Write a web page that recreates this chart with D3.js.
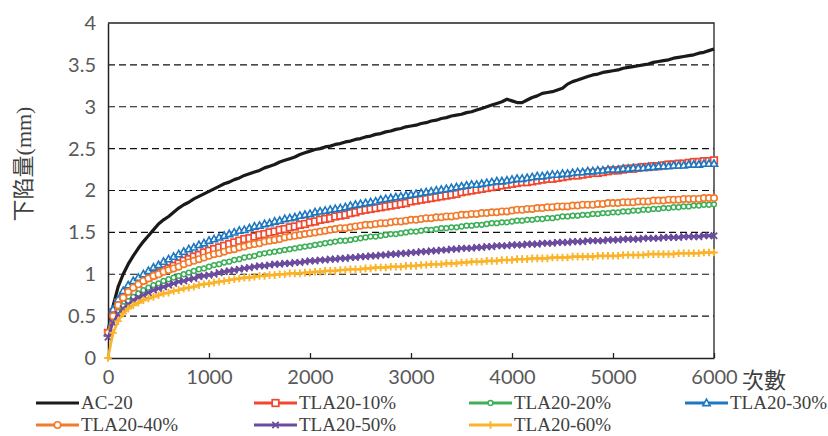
<!DOCTYPE html>
<html>
<head>
<meta charset="utf-8">
<script src="https://cdn.jsdelivr.net/npm/d3@7/dist/d3.min.js"></script>
<style>
  body { margin: 0; background: #fff; }
  #chart { width: 828px; height: 436px; }
  .tick text { font-family: Lato, "DejaVu Sans", sans-serif; font-size: 20px; fill: #595959; }
  .legend text { font-family: "Liberation Serif", "DejaVu Serif", serif; font-size: 19px; fill: #404040; }
</style>
</head>
<body>
<div id="chart"></div>
<script>
// cycles every 50, 0..6000
var cycles = d3.range(0, 6001, 50);

var xTicks = [0, 1000, 2000, 3000, 4000, 5000, 6000];
var yTicks = [0, 0.5, 1, 1.5, 2, 2.5, 3, 3.5, 4];

var names = ["AC-20", "TLA20-10%", "TLA20-20%", "TLA20-30%", "TLA20-40%", "TLA20-50%", "TLA20-60%"];

var ac20 = [
  0.32, 0.62, 0.85, 1.00, 1.12, 1.22, 1.31, 1.39, 1.46, 1.53, 1.60, 1.65, 1.69, 1.74, 1.79, 1.83, 1.86, 1.90, 1.93, 1.96, 1.99,
  2.02, 2.05, 2.08, 2.10, 2.13, 2.15, 2.18, 2.20, 2.22, 2.24, 2.27, 2.29, 2.31, 2.34, 2.36, 2.38, 2.40, 2.43, 2.45, 2.47,
  2.49, 2.50, 2.52, 2.53, 2.55, 2.56, 2.58, 2.59, 2.61, 2.62, 2.64, 2.65, 2.67, 2.68, 2.70, 2.71, 2.73, 2.74, 2.76, 2.77,
  2.78, 2.80, 2.81, 2.83, 2.84, 2.86, 2.87, 2.89, 2.90, 2.91, 2.93, 2.94, 2.96, 2.98, 3.00, 3.02, 3.04, 3.06, 3.09, 3.07,
  3.05, 3.05, 3.08, 3.11, 3.13, 3.16, 3.17, 3.18, 3.20, 3.22, 3.27, 3.30, 3.32, 3.34, 3.36, 3.38, 3.39, 3.41, 3.42, 3.43,
  3.44, 3.46, 3.47, 3.48, 3.49, 3.50, 3.51, 3.53, 3.54, 3.55, 3.56, 3.58, 3.59, 3.60, 3.61, 3.62, 3.64, 3.65, 3.67, 3.69
];
var tla10 = [
  0.30, 0.55, 0.66, 0.74, 0.80, 0.85, 0.89, 0.93, 0.96, 0.99, 1.02, 1.05, 1.07, 1.10, 1.13, 1.16, 1.18, 1.21, 1.23, 1.26, 1.28,
  1.30, 1.32, 1.34, 1.36, 1.38, 1.40, 1.42, 1.43, 1.45, 1.47, 1.48, 1.50, 1.51, 1.53, 1.54, 1.56, 1.57, 1.59, 1.60, 1.62,
  1.63, 1.65, 1.66, 1.67, 1.69, 1.70, 1.71, 1.73, 1.74, 1.76, 1.77, 1.78, 1.79, 1.80, 1.81, 1.82, 1.83, 1.84, 1.85, 1.87,
  1.88, 1.89, 1.90, 1.91, 1.92, 1.93, 1.94, 1.95, 1.96, 1.98, 1.99, 2.00, 2.01, 2.02, 2.03, 2.04, 2.05, 2.06, 2.07, 2.08,
  2.09, 2.10, 2.10, 2.11, 2.12, 2.13, 2.14, 2.14, 2.15, 2.16, 2.17, 2.18, 2.18, 2.19, 2.20, 2.21, 2.21, 2.22, 2.23, 2.24,
  2.24, 2.25, 2.26, 2.26, 2.27, 2.28, 2.28, 2.29, 2.29, 2.30, 2.31, 2.31, 2.32, 2.32, 2.33, 2.34, 2.34, 2.35, 2.35, 2.36
];
var tla20 = [
  0.28, 0.45, 0.55, 0.62, 0.68, 0.73, 0.77, 0.81, 0.84, 0.87, 0.89, 0.92, 0.94, 0.96, 0.98, 1.00, 1.02, 1.04, 1.06, 1.07, 1.09,
  1.11, 1.12, 1.14, 1.15, 1.17, 1.18, 1.20, 1.21, 1.22, 1.24, 1.25, 1.26, 1.27, 1.28, 1.29, 1.30, 1.31, 1.32, 1.33, 1.34,
  1.35, 1.36, 1.37, 1.38, 1.39, 1.40, 1.40, 1.41, 1.42, 1.43, 1.44, 1.45, 1.45, 1.46, 1.47, 1.48, 1.48, 1.49, 1.50, 1.51,
  1.51, 1.52, 1.53, 1.53, 1.54, 1.55, 1.55, 1.56, 1.56, 1.57, 1.58, 1.58, 1.59, 1.59, 1.60, 1.61, 1.61, 1.62, 1.62, 1.63,
  1.64, 1.64, 1.65, 1.65, 1.66, 1.66, 1.67, 1.67, 1.68, 1.69, 1.69, 1.70, 1.70, 1.71, 1.71, 1.72, 1.72, 1.73, 1.73, 1.74,
  1.74, 1.75, 1.75, 1.76, 1.76, 1.77, 1.77, 1.78, 1.78, 1.79, 1.79, 1.80, 1.80, 1.81, 1.81, 1.82, 1.82, 1.83, 1.83, 1.835
];
var tla30 = [
  0.30, 0.58, 0.70, 0.80, 0.87, 0.92, 0.96, 1.00, 1.04, 1.08, 1.11, 1.15, 1.18, 1.21, 1.24, 1.27, 1.30, 1.32, 1.35, 1.37, 1.40,
  1.42, 1.44, 1.46, 1.48, 1.50, 1.52, 1.53, 1.55, 1.57, 1.58, 1.60, 1.61, 1.63, 1.64, 1.66, 1.67, 1.68, 1.70, 1.71, 1.72,
  1.74, 1.75, 1.76, 1.77, 1.78, 1.79, 1.80, 1.82, 1.83, 1.84, 1.85, 1.86, 1.87, 1.89, 1.90, 1.91, 1.92, 1.93, 1.94, 1.95,
  1.96, 1.97, 1.98, 1.99, 2.00, 2.01, 2.02, 2.03, 2.04, 2.05, 2.06, 2.07, 2.07, 2.08, 2.09, 2.10, 2.11, 2.11, 2.12, 2.13,
  2.14, 2.14, 2.15, 2.16, 2.17, 2.17, 2.18, 2.19, 2.19, 2.20, 2.20, 2.21, 2.22, 2.22, 2.23, 2.23, 2.24, 2.24, 2.25, 2.25,
  2.25, 2.26, 2.26, 2.27, 2.27, 2.27, 2.28, 2.28, 2.29, 2.29, 2.29, 2.30, 2.30, 2.30, 2.31, 2.31, 2.31, 2.32, 2.32, 2.32
];
var tla40 = [
  0.30, 0.50, 0.63, 0.72, 0.79, 0.84, 0.88, 0.92, 0.95, 0.98, 1.00, 1.03, 1.05, 1.07, 1.09, 1.12, 1.14, 1.16, 1.18, 1.20, 1.22,
  1.24, 1.25, 1.27, 1.29, 1.30, 1.32, 1.33, 1.35, 1.36, 1.37, 1.39, 1.40, 1.41, 1.42, 1.44, 1.45, 1.46, 1.47, 1.48, 1.49,
  1.50, 1.51, 1.52, 1.53, 1.54, 1.55, 1.55, 1.56, 1.57, 1.58, 1.59, 1.59, 1.60, 1.61, 1.61, 1.62, 1.63, 1.63, 1.64, 1.65,
  1.65, 1.66, 1.67, 1.67, 1.68, 1.68, 1.69, 1.69, 1.70, 1.71, 1.71, 1.72, 1.72, 1.73, 1.73, 1.74, 1.74, 1.75, 1.75, 1.76,
  1.77, 1.77, 1.78, 1.78, 1.79, 1.79, 1.80, 1.80, 1.81, 1.81, 1.81, 1.82, 1.82, 1.83, 1.83, 1.83, 1.84, 1.84, 1.85, 1.85,
  1.85, 1.86, 1.86, 1.86, 1.87, 1.87, 1.87, 1.88, 1.88, 1.88, 1.89, 1.89, 1.89, 1.90, 1.90, 1.90, 1.90, 1.91, 1.91, 1.91
];
var tla50 = [
  0.25, 0.42, 0.52, 0.59, 0.64, 0.69, 0.72, 0.75, 0.78, 0.81, 0.83, 0.85, 0.87, 0.89, 0.91, 0.92, 0.94, 0.95, 0.97, 0.98, 0.99,
  1.00, 1.02, 1.03, 1.04, 1.05, 1.06, 1.07, 1.08, 1.09, 1.10, 1.10, 1.11, 1.12, 1.12, 1.13, 1.13, 1.14, 1.14, 1.15, 1.16,
  1.16, 1.17, 1.17, 1.18, 1.18, 1.19, 1.19, 1.20, 1.20, 1.21, 1.21, 1.22, 1.22, 1.23, 1.23, 1.24, 1.24, 1.25, 1.25, 1.26,
  1.26, 1.27, 1.27, 1.28, 1.28, 1.29, 1.29, 1.30, 1.30, 1.31, 1.31, 1.31, 1.32, 1.32, 1.33, 1.33, 1.34, 1.34, 1.34, 1.35,
  1.35, 1.35, 1.36, 1.36, 1.36, 1.37, 1.37, 1.37, 1.38, 1.38, 1.38, 1.39, 1.39, 1.39, 1.40, 1.40, 1.40, 1.40, 1.41, 1.41,
  1.41, 1.42, 1.42, 1.42, 1.42, 1.43, 1.43, 1.43, 1.43, 1.44, 1.44, 1.44, 1.44, 1.45, 1.45, 1.45, 1.45, 1.46, 1.46, 1.46
];
var tla60 = [
  0.00, 0.30, 0.44, 0.53, 0.59, 0.63, 0.66, 0.69, 0.71, 0.73, 0.75, 0.77, 0.78, 0.80, 0.81, 0.83, 0.84, 0.85, 0.87, 0.88, 0.89,
  0.90, 0.91, 0.92, 0.93, 0.94, 0.95, 0.96, 0.96, 0.97, 0.98, 0.98, 0.99, 0.99, 1.00, 1.00, 1.01, 1.01, 1.01, 1.02, 1.02,
  1.03, 1.03, 1.04, 1.04, 1.04, 1.05, 1.05, 1.06, 1.06, 1.06, 1.07, 1.07, 1.08, 1.08, 1.08, 1.09, 1.09, 1.09, 1.10, 1.10,
  1.10, 1.11, 1.11, 1.12, 1.12, 1.12, 1.13, 1.13, 1.13, 1.14, 1.14, 1.15, 1.15, 1.15, 1.16, 1.16, 1.16, 1.17, 1.17, 1.17,
  1.18, 1.18, 1.18, 1.19, 1.19, 1.19, 1.19, 1.20, 1.20, 1.20, 1.20, 1.21, 1.21, 1.21, 1.21, 1.21, 1.22, 1.22, 1.22, 1.22,
  1.22, 1.23, 1.23, 1.23, 1.23, 1.23, 1.24, 1.24, 1.24, 1.24, 1.24, 1.24, 1.25, 1.25, 1.25, 1.25, 1.25, 1.26, 1.26, 1.26
];

var colors = ["#1a1a1a", "#f1472f", "#3daf57", "#1d78c1", "#f27a2a", "#6a4b9e", "#fbb42a"];
var markers = ["none", "square", "circleSmall", "triangle", "circle", "cross", "plus"];

var seriesList = [ac20, tla10, tla20, tla30, tla40, tla50, tla60].map(function(vals, i) {
  return {
    name: names[i],
    color: colors[i],
    marker: markers[i],
    points: vals.map(function(v, j) { return {x: cycles[j], y: v}; })
  };
});

var width = 828, height = 436;
var margin = {top: 23, right: 114, bottom: 78, left: 108};

var svg = d3.select("#chart").append("svg")
  .attr("width", width)
  .attr("height", height);

var xScale = d3.scaleLinear()
  .domain([0, 6000])
  .range([margin.left, width - margin.right]);

var yScale = d3.scaleLinear()
  .domain([0, 4])
  .range([height - margin.bottom, margin.top]);

// dashed gridlines
svg.append("g")
  .selectAll("line")
  .data(yTicks.filter(function(d) { return d > 0 && d < 4; }))
  .enter()
  .append("line")
    .attr("x1", xScale(0))
    .attr("x2", xScale(6000))
    .attr("y1", function(d) { return yScale(d); })
    .attr("y2", function(d) { return yScale(d); })
    .attr("stroke", "#111")
    .attr("stroke-width", 1.2)
    .attr("stroke-dasharray", "7,4");

// frame (top + right)
svg.append("path")
  .attr("d", "M" + xScale(0) + "," + yScale(4) + "H" + xScale(6000) + "V" + yScale(0))
  .attr("fill", "none")
  .attr("stroke", "#222")
  .attr("stroke-width", 1.3);

var xAxis = svg.append("g")
  .attr("transform", `translate(0,${yScale(0)})`)
  .call(d3.axisBottom(xScale).tickValues(xTicks).tickSize(-5).tickSizeOuter(0).tickPadding(12)
    .tickFormat(d3.format("d")));

var yAxis = svg.append("g")
  .attr("transform", `translate(${xScale(0)},0)`)
  .call(d3.axisLeft(yScale).tickValues(yTicks).tickSize(0).tickSizeOuter(0).tickPadding(12)
    .tickFormat(function(d) { return d; }));

xAxis.select(".domain").attr("stroke", "#222").attr("stroke-width", 1.5);
yAxis.select(".domain").attr("stroke", "#222").attr("stroke-width", 1.5);
xAxis.selectAll(".tick line").attr("stroke", "#222").attr("stroke-width", 1.3);

var yLabel = svg.append("text")
  .attr("transform", "translate(31,164) rotate(-90)")
  .attr("text-anchor", "middle")
  .attr("font-size", 22)
  .attr("fill", "#404040");
yLabel.append("tspan").attr("font-family", "'Noto Sans CJK TC', sans-serif").text("下陷量");
yLabel.append("tspan").attr("font-family", "'Liberation Serif', serif").text("(mm)");

svg.append("text")
  .attr("x", 742)
  .attr("y", 388)
  .attr("font-family", "'Noto Sans CJK TC', sans-serif")
  .attr("font-size", 22)
  .attr("fill", "#404040")
  .text("次數");

function drawMarker(g, type, color) {
  if (type === "square") {
    g.append("rect").attr("x", -3.3).attr("y", -3.3).attr("width", 6.6).attr("height", 6.6)
      .attr("fill", "#fff").attr("stroke", color).attr("stroke-width", 1.7);
  } else if (type === "circle") {
    g.append("circle").attr("r", 3.2)
      .attr("fill", "#fff").attr("stroke", color).attr("stroke-width", 1.6);
  } else if (type === "circleSmall") {
    g.append("circle").attr("r", 2.4)
      .attr("fill", "#fff").attr("stroke", color).attr("stroke-width", 1.5);
  } else if (type === "triangle") {
    g.append("path").attr("d", "M0,-3.8L3.6,2.6H-3.6Z")
      .attr("fill", "#fff").attr("stroke", color).attr("stroke-width", 1.6);
  } else if (type === "cross") {
    g.append("path").attr("d", "M-3.2,-3.2L3.2,3.2M-3.2,3.2L3.2,-3.2")
      .attr("stroke", color).attr("stroke-width", 1.8);
  } else if (type === "plus") {
    g.append("path").attr("d", "M-3.8,0H3.8M0,-3.8V3.8")
      .attr("stroke", color).attr("stroke-width", 1.9);
  }
}

var line = d3.line()
  .x(function(d) { return xScale(d.x); })
  .y(function(d) { return yScale(d.y); });

seriesList.forEach(function(s) {
  svg.append("path")
    .datum(s.points)
    .attr("d", line)
    .attr("fill", "none")
    .attr("stroke", s.color)
    .attr("stroke-width", s.marker === "none" ? 3.2 : 2.6)
    .attr("stroke-linejoin", "round");

  if (s.marker !== "none") {
    svg.append("g")
      .selectAll("g")
      .data(s.points)
      .enter()
      .append("g")
        .attr("transform", function(d) { return `translate(${xScale(d.x)},${yScale(d.y)})`; })
        .each(function() { drawMarker(d3.select(this), s.marker, s.color); });
  }
});

// legend
var legendPos = [[36, 403], [254, 403], [469, 403], [685, 403], [36, 425], [254, 425], [469, 425]];
var legend = svg.append("g").attr("class", "legend");
seriesList.forEach(function(s, i) {
  var g = legend.append("g").attr("transform", `translate(${legendPos[i][0]},${legendPos[i][1]})`);
  g.append("line").attr("x1", 0).attr("x2", 43).attr("y1", 0).attr("y2", 0)
    .attr("stroke", s.color).attr("stroke-width", 3.2);
  var m = g.append("g").attr("transform", "translate(21.5,0)");
  drawMarker(m, s.marker, s.color);
  g.append("text").attr("x", 45).attr("y", 6).text(s.name);
});
</script>
</body>
</html>
